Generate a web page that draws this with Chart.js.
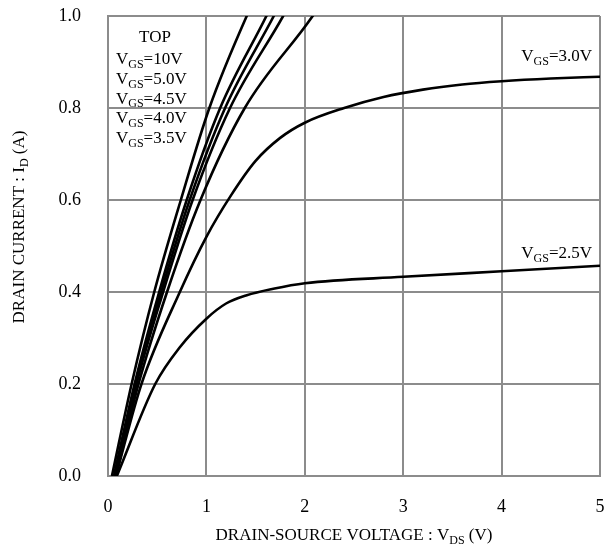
<!DOCTYPE html>
<html>
<head>
<meta charset="utf-8">
<script src="https://cdn.jsdelivr.net/npm/chart.js@4"></script>
<style>
  html, body { margin: 0; padding: 0; background: #fff; }
  #wrap { width: 607px; height: 554px; }
</style>
</head>
<body>
<div id="wrap"><canvas id="grafica" width="607" height="554"></canvas></div>
<script>
// curvas ID-VDS (V, A)
const vgs10  = [[0.04,0],[0.24,0.2],[0.47,0.4],[0.74,0.6],[1.03,0.8],[1.41,1.0],[1.5,1.04]];
const vgs50  = [[0.06,0],[0.27,0.2],[0.52,0.4],[0.80,0.6],[1.14,0.8],[1.61,1.0],[1.7,1.04]];
const vgs45  = [[0.07,0],[0.28,0.2],[0.54,0.4],[0.83,0.6],[1.19,0.8],[1.685,1.0],[1.78,1.04]];
const vgs40  = [[0.08,0],[0.29,0.2],[0.56,0.4],[0.86,0.6],[1.24,0.8],[1.78,1.0],[1.88,1.04]];
const vgs35  = [[0.08,0],[0.31,0.2],[0.60,0.4],[0.94,0.6],[1.39,0.8],[2.08,1.0],[2.2,1.04]];
const vgs30  = [[0.08,0],[0.34,0.2],[0.73,0.4],[1.0,0.52],[1.25,0.61],[1.5,0.685],[1.75,0.735],[2.0,0.768],[2.4,0.80],[2.8,0.824],[3.2,0.84],[3.6,0.851],[4.0,0.858],[4.5,0.864],[5.0,0.868]];
const vgs25  = [[0.09,0],[0.48,0.2],[0.73,0.28],[1.0,0.342],[1.2,0.375],[1.41,0.393],[1.68,0.407],[2.0,0.419],[3.0,0.433],[4.0,0.445],[5.0,0.457]];

const curvas = [vgs10, vgs50, vgs45, vgs40, vgs35, vgs30, vgs25];
const xTicks = [0, 1, 2, 3, 4, 5];
const yTicks = [0, 0.2, 0.4, 0.6, 0.8, 1.0];
const leyenda = ["10V", "5.0V", "4.5V", "4.0V", "3.5V"];

const serif = "'Liberation Serif', 'Times New Roman', serif";
const gris = "#8c8c8c";

// texto con subindice: principal + sub + resto
function textoSub(ctx, x, y, a, sub, b, size, align) {
    ctx.font = size + "px " + serif;
    const wa = ctx.measureText(a).width;
    const wb = ctx.measureText(b).width;
    ctx.font = Math.round(size * 0.68) + "px " + serif;
    const ws = ctx.measureText(sub).width;
    const total = wa + ws + wb;
    let x0 = x;
    if (align === "center") x0 = x - total / 2;
    if (align === "right") x0 = x - total;
    ctx.textAlign = "left";
    ctx.textBaseline = "alphabetic";
    ctx.font = size + "px " + serif;
    ctx.fillText(a, x0, y);
    ctx.font = Math.round(size * 0.68) + "px " + serif;
    ctx.fillText(sub, x0 + wa, y + size * 0.22);
    ctx.font = size + "px " + serif;
    ctx.fillText(b, x0 + wa + ws, y);
}

const textos = {
    id: "textos",
    afterDraw(chart) {
        const ctx = chart.ctx;
        ctx.save();
        ctx.fillStyle = "#000";

        // bloque de leyenda arriba a la izquierda
        ctx.font = "17px " + serif;
        ctx.textAlign = "center";
        ctx.textBaseline = "middle";
        ctx.fillText("TOP", 155, 38);
        leyenda.forEach((v, i) => {
            textoSub(ctx, 116, 64 + i * 19.8, "V", "GS", "=" + v, 17, "left");
        });

        textoSub(ctx, 592, 61, "V", "GS", "=3.0V", 17, "right");
        textoSub(ctx, 592, 258, "V", "GS", "=2.5V", 17, "right");

        // titulos de ejes
        textoSub(ctx, 354, 540, "DRAIN-SOURCE VOLTAGE : V", "DS", " (V)", 17, "center");
        ctx.translate(24, 227);
        ctx.rotate(-Math.PI / 2);
        textoSub(ctx, 0, 0, "DRAIN CURRENT : I", "D", " (A)", 17, "center");
        ctx.restore();
    }
};

new Chart(document.getElementById("grafica"), {
    type: "line",
    data: {
        datasets: curvas.map(c => ({
            data: c.map(p => ({ x: p[0], y: p[1] })),
            borderColor: "#000",
            borderWidth: 2.6,
            pointRadius: 0,
            fill: false,
            cubicInterpolationMode: "monotone"
        }))
    },
    options: {
        responsive: false,
        animation: false,
        layout: { padding: { left: 0, right: 7, top: 16, bottom: 0 } },
        plugins: { legend: { display: false }, tooltip: { enabled: false } },
        scales: {
            x: {
                type: "linear",
                min: 0,
                max: 5,
                afterFit: s => { s.height = 78; s.paddingLeft = 0; s.paddingRight = 0; },
                afterBuildTicks: s => { s.ticks = xTicks.map(v => ({ value: v })); },
                ticks: {
                    padding: 20,
                    color: "#000",
                    maxRotation: 0,
                    font: { family: serif, size: 18 },
                    callback: v => String(v)
                },
                grid: { color: gris, lineWidth: 2, drawTicks: false },
                border: { color: gris, width: 2 }
            },
            y: {
                type: "linear",
                min: 0,
                max: 1,
                afterFit: s => { s.width = 108; s.paddingTop = 0; s.paddingBottom = 0; },
                afterBuildTicks: s => { s.ticks = yTicks.map(v => ({ value: v })); },
                ticks: {
                    padding: 27,
                    color: "#000",
                    font: { family: serif, size: 18 },
                    callback: v => Number(v).toFixed(1)
                },
                grid: { color: gris, lineWidth: 2, drawTicks: false },
                border: { color: gris, width: 2 }
            }
        }
    },
    plugins: [textos]
});
</script>
</body>
</html>
